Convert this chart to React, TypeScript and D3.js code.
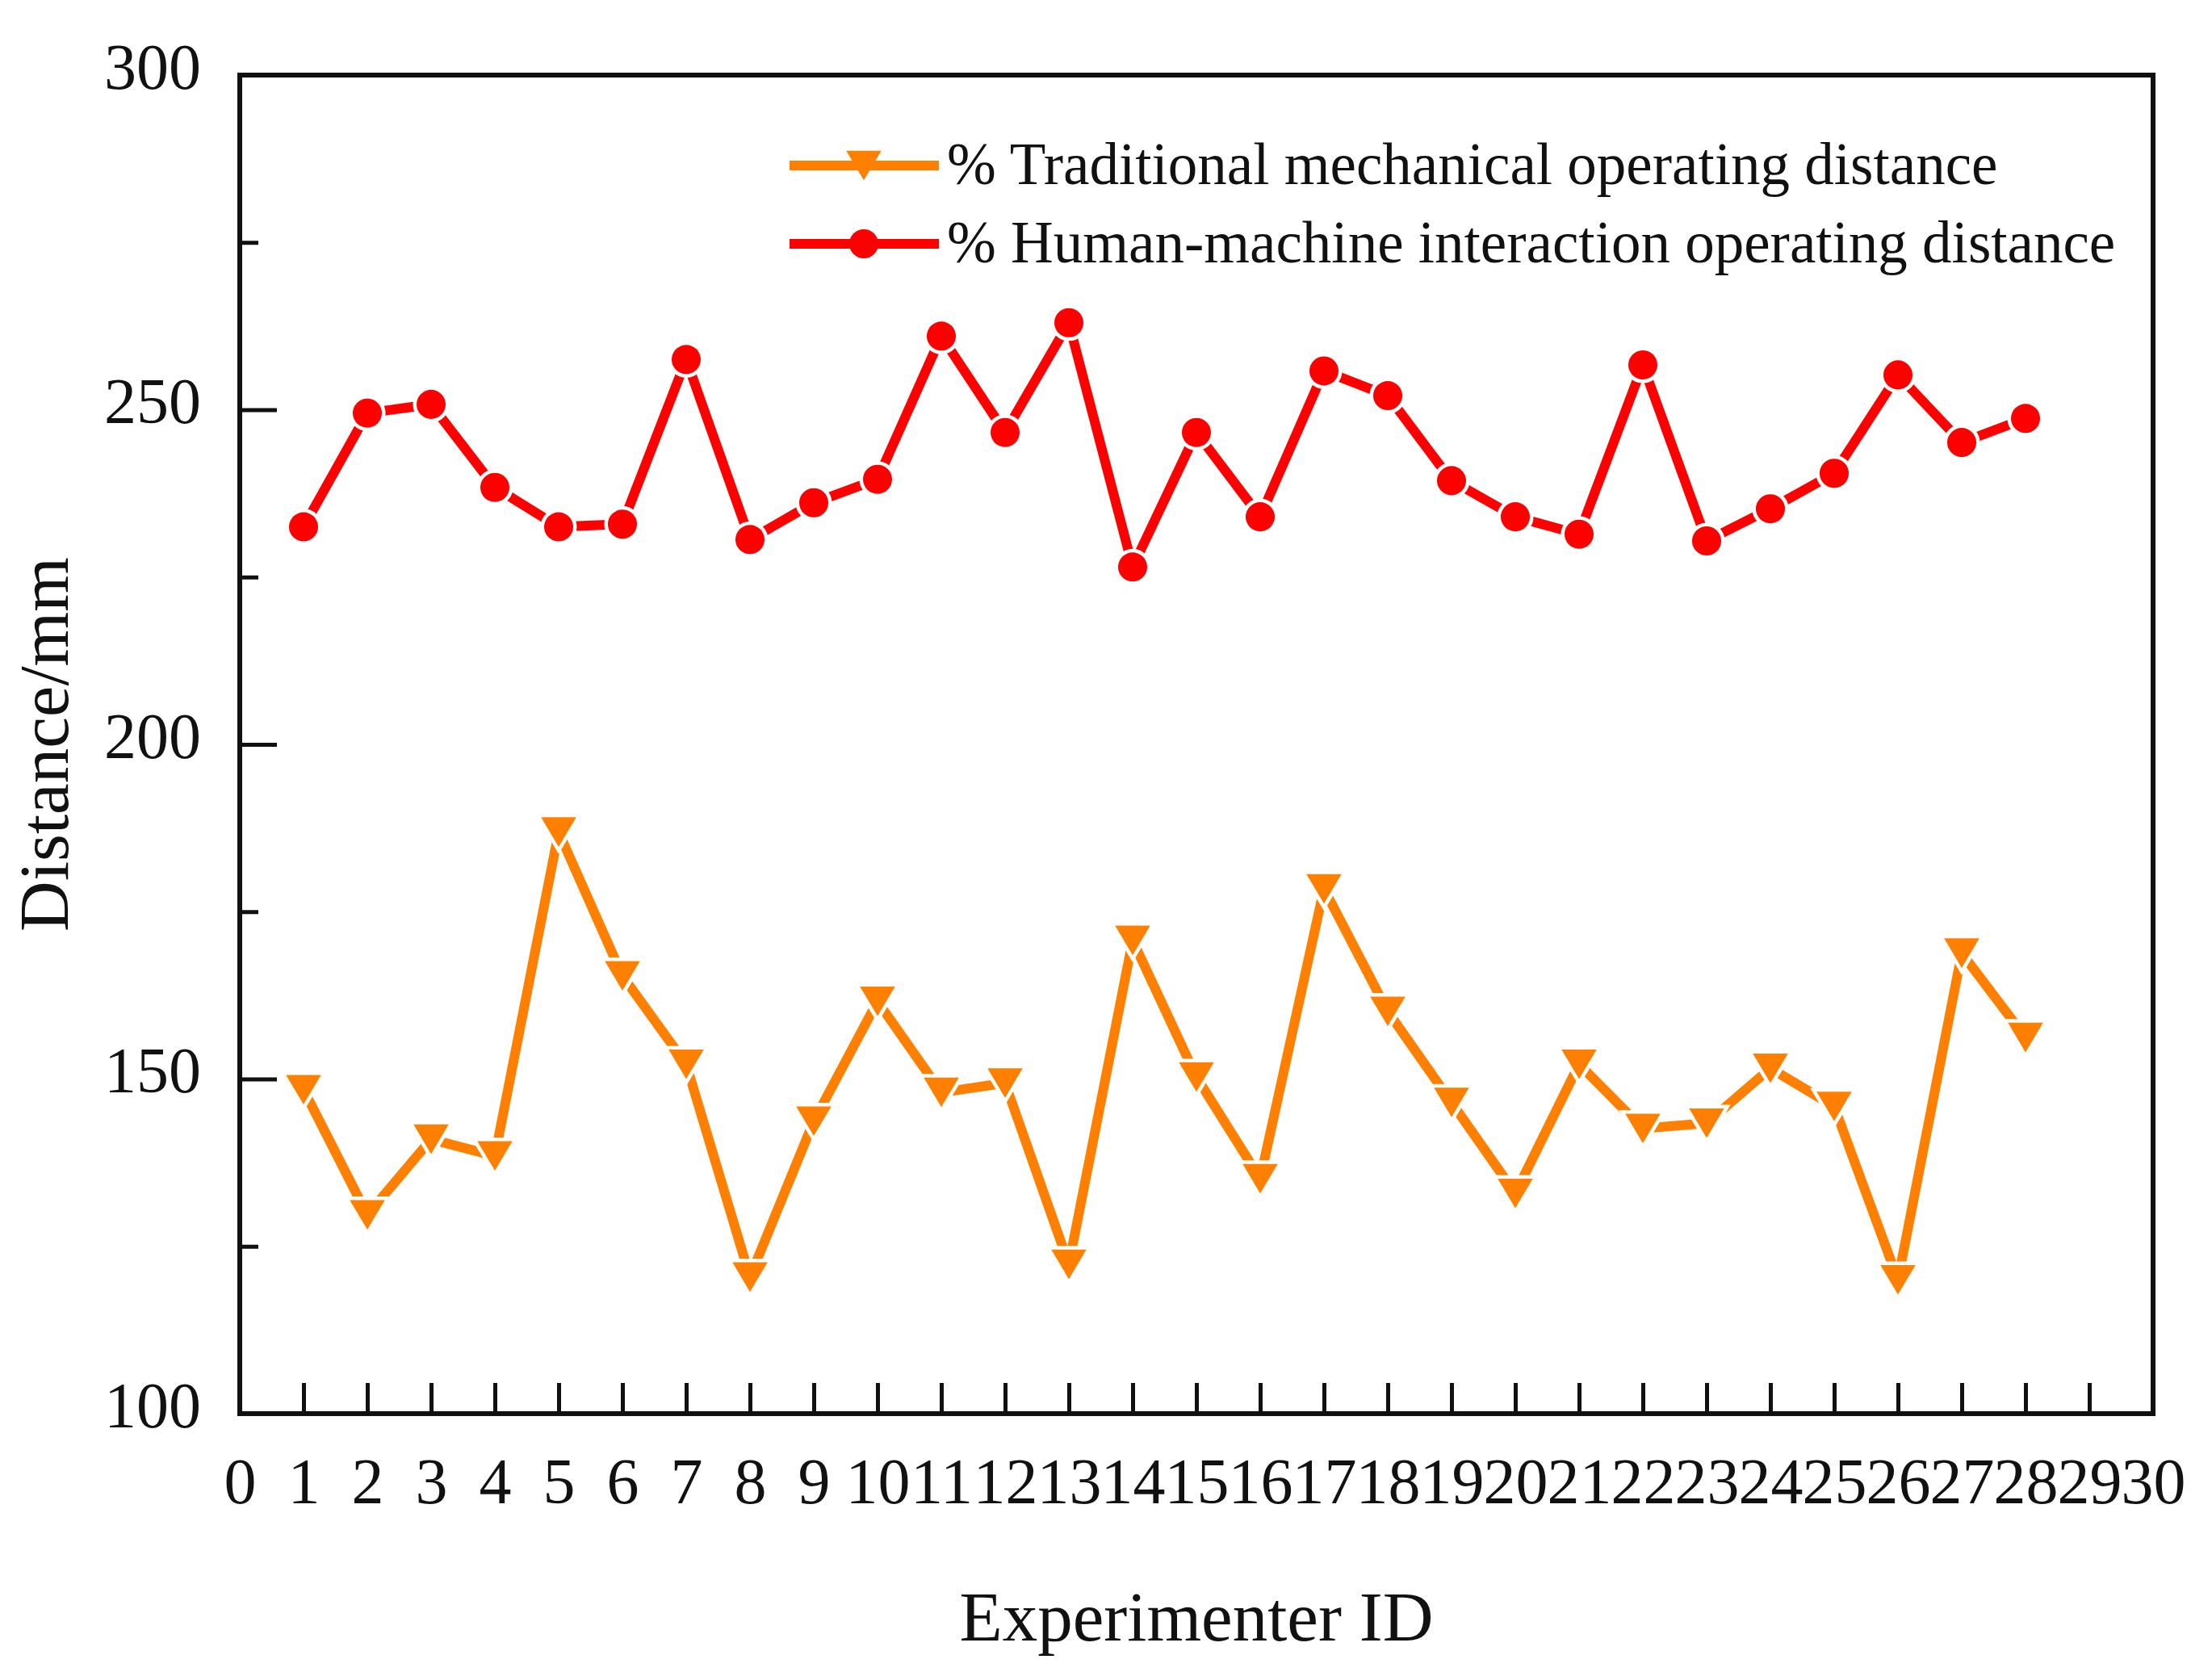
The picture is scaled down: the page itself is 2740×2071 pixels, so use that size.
import React, { useEffect, useRef } from 'react'
import * as d3 from 'd3'

// Experimenter IDs 1..28
const ids: number[] = d3.range(1, 29)

// Traditional mechanical operating distance (mm)
const traditional: number[] = [
    148.4, 129.7, 141.0, 138.5, 186.9, 165.4, 152.2, 120.4, 143.7, 161.6,
    148.0, 149.4, 122.3, 170.7, 150.3, 135.1, 178.4, 160.1, 146.5, 132.9,
    152.2, 142.6, 143.4, 151.6, 145.9, 120.0, 168.8, 156.2,
]

// Human-machine interaction operating distance (mm)
const interaction: number[] = [
    232.5, 249.5, 250.8, 238.4, 232.5, 232.9, 257.5, 230.6, 236.1, 239.6,
    261.0, 246.6, 263.0, 226.5, 246.6, 234.0, 255.8, 252.1, 239.4, 234.0,
    231.4, 256.7, 230.4, 235.2, 240.5, 255.2, 245.1, 248.7,
]

const xTicks: number[] = d3.range(0, 31)
const yLabelTicks: number[] = [100, 150, 200, 250, 300]
const yMinorTicks: number[] = [125, 175, 225, 275]

const legendLabels: string[] = [
    '% Traditional mechanical operating distance',
    '% Human-machine interaction operating distance',
]

const width = 2740
const height = 2071
const margin = { top: 93, right: 73, bottom: 320, left: 297 }
const font = '"Liberation Serif", "Times New Roman", serif'
const orange = '#ff8000'
const red = '#ff0000'

// downward triangle, centred on its bounding box
const triangleDown = {
    draw(context: d3.Path, size: number) {
        const w = Math.sqrt((size * 4) / Math.sqrt(3))
        const h = w * 0.84
        context.moveTo(-w / 2, -h / 2)
        context.lineTo(w / 2, -h / 2)
        context.lineTo(0, h / 2)
        context.closePath()
    },
}

export default function App() {
    const svgRef = useRef<SVGSVGElement | null>(null)

    useEffect(() => {
        const svg = d3.select(svgRef.current)
        svg.selectAll('*').remove()

        const x = d3
            .scaleLinear()
            .domain([0, 30])
            .range([margin.left, width - margin.right])
        const y = d3
            .scaleLinear()
            .domain([100, 300])
            .range([height - margin.bottom, margin.top])

        const line = d3
            .line<number>()
            .x((_, i) => x(ids[i]))
            .y((d) => y(d))

        const triSymbol = d3.symbol().type(triangleDown as any).size(820)
        const dotSymbol = d3.symbol().type(d3.symbolCircle).size(1020)

        // x ticks (inside)
        svg.append('g')
            .attr('transform', `translate(0, ${height - margin.bottom})`)
            .call(
                d3
                    .axisBottom(x)
                    .tickValues(xTicks)
                    .tickSize(-38)
                    .tickPadding(70)
                    .tickFormat((d) => String(d))
            )
            .call((g) => g.select('.domain').remove())
            .call((g) =>
                g
                    .selectAll('.tick line')
                    .attr('stroke', '#111')
                    .attr('stroke-width', 5)
                    .filter((d: any) => d === 0 || d === 30)
                    .remove()
            )
            .call((g) =>
                g
                    .selectAll('.tick text')
                    .attr('font-family', font)
                    .attr('font-size', 80)
                    .attr('fill', '#111')
                    .attr('dy', 0)
                    .attr('y', 111)
            )

        // y ticks (inside): long at labelled values, short in between
        const yAxis = svg.append('g').attr('transform', `translate(${margin.left}, 0)`)
        yAxis
            .call(
                d3
                    .axisLeft(y)
                    .tickValues(yLabelTicks)
                    .tickSize(-46)
                    .tickPadding(48)
                    .tickFormat((d) => String(d))
            )
            .call((g) => g.select('.domain').remove())
            .call((g) =>
                g
                    .selectAll('.tick line')
                    .attr('stroke', '#111')
                    .attr('stroke-width', 5)
            )
            .call((g) =>
                g
                    .selectAll('.tick text')
                    .attr('font-family', font)
                    .attr('font-size', 80)
                    .attr('fill', '#111')
                    .attr('dy', '0.2em')
            )
        svg.append('g')
            .attr('transform', `translate(${margin.left}, 0)`)
            .call(d3.axisLeft(y).tickValues(yMinorTicks).tickSize(-23).tickFormat(() => ''))
            .call((g) => g.select('.domain').remove())
            .call((g) => g.selectAll('.tick line').attr('stroke', '#111').attr('stroke-width', 5))

        // frame
        svg.append('rect')
            .attr('x', margin.left)
            .attr('y', margin.top)
            .attr('width', width - margin.left - margin.right)
            .attr('height', height - margin.top - margin.bottom)
            .attr('fill', 'none')
            .attr('stroke', '#111')
            .attr('stroke-width', 6)

        const series = [
            { values: traditional, color: orange, symbol: triSymbol },
            { values: interaction, color: red, symbol: dotSymbol },
        ]

        series.forEach((s) => {
            svg.append('path')
                .attr('d', line(s.values))
                .attr('fill', 'none')
                .attr('stroke', s.color)
                .attr('stroke-width', 12)
                .attr('stroke-linejoin', 'round')

            svg.append('g')
                .selectAll('path')
                .data(s.values)
                .join('path')
                .attr('transform', (d, i) => `translate(${x(ids[i])},${y(d)})`)
                .attr('d', s.symbol() as string)
                .attr('fill', s.color)
                .attr('stroke', 'white')
                .attr('stroke-width', 9)
                .style('paint-order', 'stroke')
        })

        // legend
        const legend = svg.append('g').attr('transform', 'translate(978, 205)')
        series.forEach((s, i) => {
            const row = legend.append('g').attr('transform', `translate(0, ${i * 97})`)
            row.append('line')
                .attr('x1', 0)
                .attr('x2', 185)
                .attr('stroke', s.color)
                .attr('stroke-width', 12)
            row.append('path')
                .attr('transform', 'translate(92, 0)')
                .attr('d', s.symbol() as string)
                .attr('fill', s.color)
            row.append('text')
                .attr('x', 195)
                .attr('y', 23)
                .attr('font-family', font)
                .attr('font-size', 73)
                .attr('fill', '#111')
                .text(legendLabels[i])
        })

        // axis titles
        svg.append('text')
            .attr('x', (margin.left + width - margin.right) / 2)
            .attr('y', 2032)
            .attr('text-anchor', 'middle')
            .attr('font-family', font)
            .attr('font-size', 87)
            .attr('fill', '#111')
            .text('Experimenter ID')

        svg.append('text')
            .attr('transform', `translate(84, ${(margin.top + height - margin.bottom) / 2}) rotate(-90)`)
            .attr('text-anchor', 'middle')
            .attr('font-family', font)
            .attr('font-size', 87)
            .attr('fill', '#111')
            .text('Distance/mm')
    }, [])

    return (
        <svg
            ref={svgRef}
            width={width}
            height={height}
            style={{ position: 'absolute', left: 0, top: 0, background: 'white' }}
        />
    )
}
